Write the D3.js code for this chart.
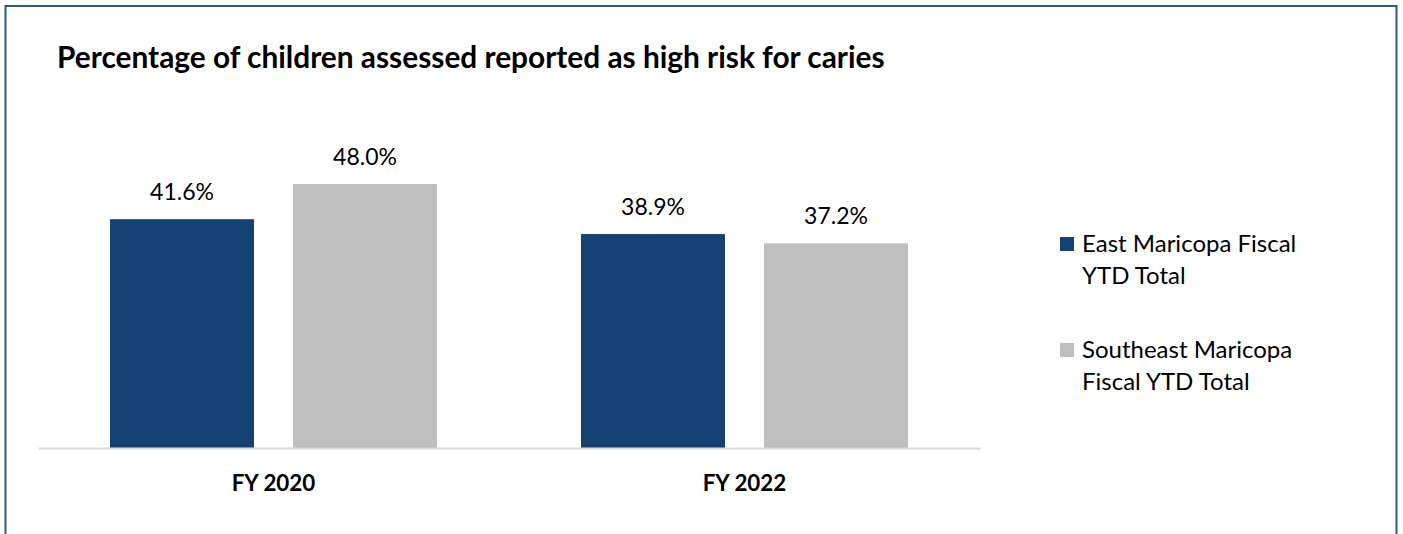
<!DOCTYPE html>
<html><head><meta charset="utf-8">
<script src="https://cdn.jsdelivr.net/npm/d3@7"></script>
<style>
html,body{margin:0;padding:0;background:#fff;}
svg{display:block;font-family:Lato,"Open Sans",sans-serif;}
</style></head>
<body>
<script>
const title = "Percentage of children assessed reported as high risk for caries";
const categories = ["FY 2020", "FY 2022"];
const seriesNames = [["East Maricopa Fiscal", "YTD Total"], ["Southeast Maricopa", "Fiscal YTD Total"]];
const eastValues = [41.6, 38.9];
const southeastValues = [48.0, 37.2];
const colors = ["#164273", "#bfbfbf"];

const W = 1403, H = 534;
const svg = d3.select("body").append("svg").attr("width", W).attr("height", H);

// fit a text element's font size so its width matches a target
function fitWidth(sel, target) {
  const n = sel.node();
  const fs = parseFloat(sel.attr("font-size"));
  const w = n.getComputedTextLength();
  if (w > 0) sel.attr("font-size", (fs * target / w).toFixed(2));
  return sel;
}

// chart frame
svg.append("rect").attr("x", 5.5).attr("y", 6).attr("width", 1391).attr("height", 540)
  .attr("fill", "#fff").attr("stroke", "#2b5a8a").attr("stroke-width", 2);

const t = svg.append("text").attr("x", 57).attr("y", 68).attr("font-weight", "bold")
  .attr("font-size", 28).attr("fill", "#000").text(title);
fitWidth(t, 828);

const plot = {left: 38, right: 980, base: 448};
const x0 = d3.scaleBand().domain(categories).range([plot.left, plot.right]).paddingInner(0).paddingOuter(0);
const groupInner = 327;
const x1 = d3.scaleBand().domain([0, 1]).range([0, groupInner]).paddingInner(39 / 183);
const y = d3.scaleLinear().domain([0, 48]).range([plot.base, plot.base - 264]);

const data = categories.map((c, i) => ({cat: c, vals: [eastValues[i], southeastValues[i]]}));

const g = svg.append("g");
data.forEach(d => {
  const gx = x0(d.cat) + (x0.bandwidth() - groupInner) / 2;
  d.vals.forEach((v, j) => {
    const bx = gx + x1(j);
    g.append("rect").attr("x", bx).attr("y", y(v)).attr("width", x1.bandwidth())
      .attr("height", y(0) - y(v)).attr("fill", colors[j]);
    g.append("text").attr("x", bx + x1.bandwidth() / 2).attr("y", y(v) - 19)
      .attr("text-anchor", "middle").attr("font-size", 23).attr("fill", "#000")
      .text(v.toFixed(1) + "%");
  });
});

// x axis
const xAxis = d3.axisBottom(x0).tickSize(0).tickPadding(0);
const ax = svg.append("g").attr("transform", `translate(0,${plot.base})`).call(xAxis);
ax.select(".domain").attr("stroke", "#d9d9d9").attr("stroke-width", 2);
ax.selectAll("text").attr("font-size", 22.4).attr("font-weight", "bold").attr("fill", "#000")
  .attr("font-family", "Lato, 'Open Sans', sans-serif")
  .attr("dy", 0).attr("y", 43);

// legend
const leg = svg.append("g");
const legY = [237, 343];
seriesNames.forEach((lines, i) => {
  leg.append("rect").attr("x", 1060).attr("y", legY[i]).attr("width", 14).attr("height", 14).attr("fill", colors[i]);
  lines.forEach((tx, k) => {
    leg.append("text").attr("x", 1082).attr("y", legY[i] + 15 + k * 32)
      .attr("font-size", 24).attr("fill", "#000").text(tx);
  });
});
</script>
</body></html>
